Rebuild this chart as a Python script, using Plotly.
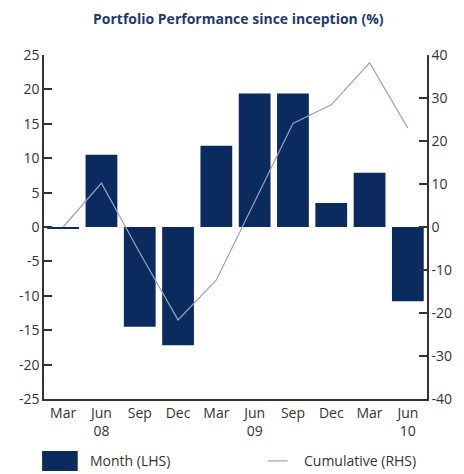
import plotly.graph_objects as go

months = ["Mar", "Jun", "Sep", "Dec", "Mar", "Jun", "Sep", "Dec", "Mar", "Jun"]
years = ["", "08", "", "", "", "09", "", "", "", "10"]
periods = ["Mar 08", "Jun 08", "Sep 08", "Dec 08", "Mar 09", "Jun 09", "Sep 09", "Dec 09", "Mar 10", "Jun 10"]
month_lhs = [-0.2, 10.5, -14.5, -17.2, 11.8, 19.4, 19.4, 3.5, 7.9, -10.8]
cumulative_rhs = [0, 10.2, -6.0, -21.6, -12.3, 6.0, 24.1, 28.4, 38.2, 23.0]
lhs_ticks = [25, 20, 15, 10, 5, 0, -5, -10, -15, -20, -25]
rhs_ticks = [40, 30, 20, 10, 0, -10, -20, -30, -40]

navy = "#0b2b5e"
line_col = "#97a3bf"
axis_col = "#333333"
font = "Open Sans"

fig = go.Figure()
fig.add_trace(go.Bar(x=periods, y=month_lhs, marker=dict(color=navy, line=dict(width=0)),
                     name="Month (LHS)", showlegend=False))
fig.add_trace(go.Scatter(x=periods, y=cumulative_rhs, yaxis="y2", mode="lines",
                         line=dict(color=line_col, width=1.2),
                         name="Cumulative (RHS)", showlegend=False))

ticktext = [m + ("<br>" + y if y else "<br> ") for m, y in zip(months, years)]

fig.update_layout(
    width=464, height=474,
    margin=dict(l=44, r=33, t=55, b=75),
    paper_bgcolor="white", plot_bgcolor="white",
    bargap=0.17,
    font=dict(family=font, size=14, color=axis_col),
    xaxis=dict(tickmode="array", tickvals=periods, ticktext=ticktext,
               showline=True, linecolor=axis_col, linewidth=1.5,
               ticks="", showgrid=False, zeroline=False,
               range=[-0.5, 9.5]),
    yaxis=dict(range=[-25, 25], tickmode="array", tickvals=lhs_ticks,
               ticktext=[str(v) for v in lhs_ticks],
               showline=True, linecolor=axis_col, linewidth=1.5,
               ticks="inside", ticklen=8, tickwidth=1.5, tickcolor=axis_col,
               showgrid=False, zeroline=False),
    yaxis2=dict(range=[-40, 40], tickmode="array", tickvals=rhs_ticks,
                ticktext=[str(v) for v in rhs_ticks],
                overlaying="y", side="right",
                showline=True, linecolor=axis_col, linewidth=1.5,
                ticks="inside", ticklen=8, tickwidth=1.5, tickcolor=axis_col,
                showgrid=False, zeroline=False),
    annotations=[
        dict(text="<b>Portfolio Performance since inception (%)</b>", xref="paper", yref="paper",
             x=0.509, y=1.107, showarrow=False, xanchor="center", yanchor="middle",
             font=dict(family=font, size=14, color="#1f3a6e")),
        dict(text="Month (LHS)", xref="paper", yref="paper", x=0.114, y=-0.18,
             showarrow=False, xanchor="left", yanchor="middle",
             font=dict(family=font, size=14, color=axis_col)),
        dict(text="Cumulative (RHS)", xref="paper", yref="paper", x=0.674, y=-0.18,
             showarrow=False, xanchor="left", yanchor="middle",
             font=dict(family=font, size=14, color=axis_col)),
    ],
    shapes=[
        dict(type="rect", xref="paper", yref="paper", x0=-0.005, x1=0.088, y0=-0.209, y1=-0.151,
             fillcolor=navy, line=dict(width=0)),
        dict(type="line", xref="paper", yref="paper", x0=0.584, x1=0.636, y0=-0.18, y1=-0.18,
             line=dict(color=line_col, width=1.2)),
    ],
)

fig.write_html("out.html", config={"displayModeBar": False},
               post_script="document.body.style.margin='0';")
